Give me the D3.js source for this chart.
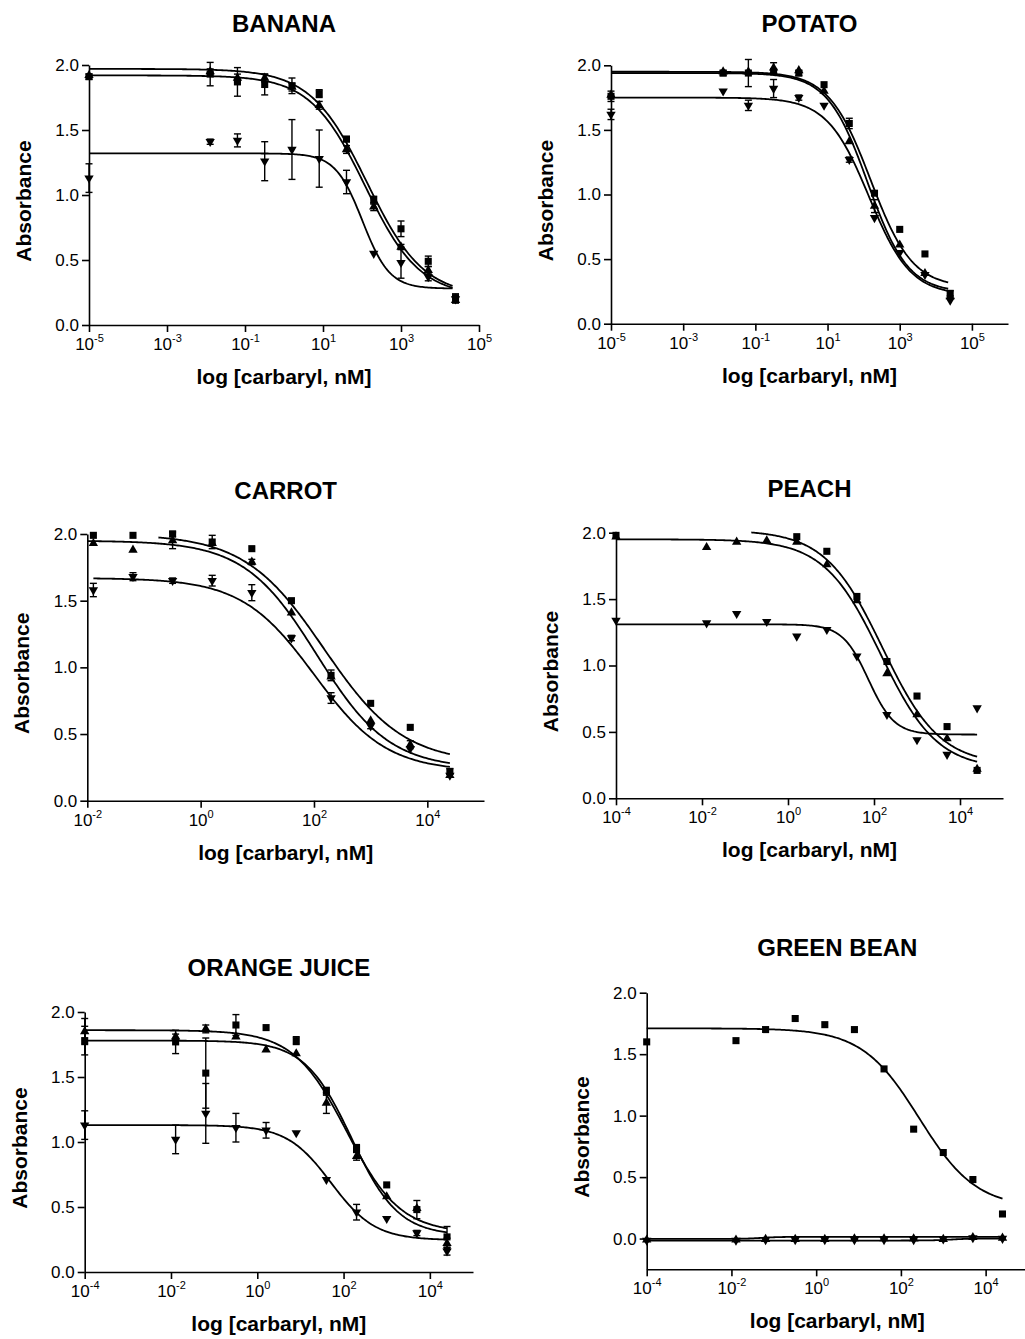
<!DOCTYPE html>
<html>
<head>
<meta charset="utf-8">
<script src="https://cdn.jsdelivr.net/npm/d3@7"></script>
<style>
	body { margin: 0; background: #fff; }
	svg { display: block; font-family: "Liberation Sans", Arial, sans-serif; }
</style>
</head>
<body>
<div id="root"></div>
<script>
// concentrations (nM); 0 is plotted on the left end of the axis
const conc = [0, 0.0128, 0.064, 0.32, 1.6, 8, 40, 200, 1000, 5000, 25000]
const titles = ['BANANA', 'POTATO', 'CARROT', 'PEACH', 'ORANGE JUICE', 'GREEN BEAN']
const symbols = ['square', 'triUp', 'triDown']

// log10 axis limits and ticks
const xExtents = [[-5, 5], [-5, 6], [-2, 5], [-4, 5], [-4, 5], [-4, 5]]
const xTickExps = [[-5, -3, -1, 1, 3, 5], [-5, -3, -1, 1, 3, 5], [-2, 0, 2, 4], [-4, -2, 0, 2, 4], [-4, -2, 0, 2, 4], [-4, -2, 0, 2, 4]]
const yExtents = [[0, 2], [0, 2], [0, 2], [0, 2], [0, 2], [-0.25, 2]]
const yTicks = [0, 0.5, 1, 1.5, 2]

// absorbance: [squares, triangles up, triangles down]
const bananaValues = [
	[1.91, 1.93, 1.87, 1.85, 1.84, 1.78, 1.43, 0.96, 0.74, 0.49, 0.21],
	[1.92, 1.95, 1.9, 1.9, 1.83, 1.69, 1.35, 0.91, 0.6, 0.42, 0.19],
	[1.13, 1.41, 1.42, 1.26, 1.35, 1.28, 1.1, 0.55, 0.48, 0.37, 0.2]
]
const bananaErrors = [
	[0.02, 0.09, 0.11, 0.08, 0.06, 0.03, 0.02, 0.03, 0.06, 0.04, 0.03],
	[0, 0.02, 0.03, 0.03, 0.03, 0.03, 0.03, 0.03, 0.02, 0.03, 0.02],
	[0.11, 0.02, 0.05, 0.15, 0.23, 0.22, 0.09, 0, 0.12, 0.03, 0.03]
]
const potatoValues = [
	[1.76, 1.94, 1.94, 1.95, 1.94, 1.85, 1.55, 1.01, 0.73, 0.54, 0.235],
	[1.77, 1.95, 1.95, 1.98, 1.96, 1.8, 1.41, 0.91, 0.61, 0.39, 0.21],
	[1.62, 1.8, 1.69, 1.82, 1.75, 1.69, 1.27, 0.82, 0.55, 0.38, 0.18]
]
const potatoErrors = [
	[0.04, 0.02, 0.105, 0.02, 0.02, 0, 0.04, 0, 0, 0, 0.02],
	[0, 0, 0, 0.04, 0, 0, 0, 0.05, 0, 0, 0],
	[0.04, 0, 0.04, 0.07, 0.02, 0, 0.02, 0, 0, 0, 0]
]
const carrotValues = [
	[null, 1.99, 1.99, 2.0, 1.94, 1.89, 1.5, 0.94, 0.73, 0.55, 0.22],
	[null, 1.93, 1.88, 1.95, 1.93, 1.79, 1.41, 0.93, 0.6, 0.42, 0.19],
	[null, 1.58, 1.68, 1.65, 1.65, 1.56, 1.22, 0.77, 0.56, 0.39, 0.19]
]
const carrotErrors = [
	[0, 0, 0, 0.02, 0.05, 0, 0, 0.04, 0, 0, 0.02],
	[0, 0, 0, 0.06, 0, 0.02, 0, 0, 0, 0.03, 0],
	[0, 0.05, 0.03, 0.02, 0.04, 0.06, 0.02, 0.04, 0.02, 0, 0]
]
const peachValues = [
	[1.98, null, null, null, 1.97, 1.86, 1.52, 1.03, 0.77, 0.54, 0.21],
	[1.97, 1.89, 1.93, 1.94, 1.93, 1.76, 1.49, 0.94, 0.63, 0.45, 0.22],
	[1.34, 1.32, 1.39, 1.33, 1.22, 1.27, 1.07, 0.63, 0.44, 0.33, 0.68]
]
const peachErrors = [
	[0, 0, 0, 0, 0, 0, 0, 0, 0, 0, 0],
	[0, 0, 0, 0, 0, 0, 0, 0, 0, 0, 0],
	[0, 0, 0, 0, 0, 0, 0, 0, 0, 0, 0]
]
const orangeValues = [
	[1.78, 1.77, 1.53, 1.9, 1.88, 1.78, 1.39, 0.95, 0.67, 0.48, 0.27],
	[1.85, 1.81, 1.87, 1.81, 1.71, 1.68, 1.3, 0.89, 0.58, 0.49, 0.22],
	[1.13, 1.02, 1.22, 1.11, 1.09, 1.07, 0.71, 0.46, 0.41, 0.3, 0.16]
]
const orangeErrors = [
	[0.11, 0.09, 0.27, 0.08, 0, 0.03, 0.03, 0.03, 0, 0.07, 0.08],
	[0.1, 0.02, 0.03, 0, 0, 0, 0.08, 0.03, 0, 0, 0.04],
	[0.11, 0.11, 0.23, 0.11, 0.06, 0, 0, 0.06, 0, 0.02, 0.03]
]
const greenBeanValues = [
	[1.6, 1.61, 1.7, 1.79, 1.74, 1.7, 1.38, 0.89, 0.7, 0.48, 0.2],
	[-0.01, -0.01, -0.005, -0.005, -0.005, 0, 0, 0, -0.005, 0.01, 0.005],
	[-0.015, -0.015, -0.01, -0.01, -0.01, -0.01, -0.01, -0.01, -0.005, 0.005, 0]
]
const greenBeanErrors = [
	[0, 0, 0, 0, 0, 0, 0, 0, 0, 0, 0],
	[0, 0, 0, 0, 0, 0, 0, 0, 0, 0, 0],
	[0, 0, 0, 0, 0, 0, 0, 0, 0, 0, 0]
]

// fitted curves: [top, bottom, EC50 (nM), hill slope, from (nM), to (nM)]
const bananaFits = [
	[1.97, 0.22, 135, 0.6, 1e-5, 21000],
	[1.92, 0.22, 120, 0.62, 1e-5, 21000],
	[1.32, 0.28, 103, 1.25, 1e-5, 21000]
]
const potatoFits = [
	[1.95, 0.28, 155, 0.75, 1e-5, 22000],
	[1.94, 0.24, 130, 0.78, 1e-5, 22000],
	[1.75, 0.22, 140, 0.75, 1e-5, 22000]
]
const carrotFits = [
	[2.0, 0.28, 150, 0.62, 0.18, 25000],
	[1.95, 0.24, 112, 0.68, 0.01, 25000],
	[1.67, 0.22, 101, 0.68, 0.0128, 25000]
]
const peachFits = [
	[2.02, 0.25, 157, 0.65, 0.14, 25000],
	[1.95, 0.22, 143, 0.66, 1e-4, 25000],
	[1.31, 0.48, 74, 1.44, 1e-4, 25000]
]
const orangeFits = [
	[1.78, 0.28, 153, 0.8, 1e-4, 25000],
	[1.86, 0.3, 119, 0.7, 1e-4, 25000],
	[1.13, 0.245, 51, 0.85, 1e-4, 25000]
]
const greenBeanFits = [
	[1.71, 0.25, 270, 0.644, 1e-4, 25000],
	[-0.016, 0, 1500, 2, 1e-4, 25000],
	[-0.003, 0.014, 0.05, 2, 1e-4, 25000]
]

const allValues = [bananaValues, potatoValues, carrotValues, peachValues, orangeValues, greenBeanValues]
const allErrors = [bananaErrors, potatoErrors, carrotErrors, peachErrors, orangeErrors, greenBeanErrors]
const allFits = [bananaFits, potatoFits, carrotFits, peachFits, orangeFits, greenBeanFits]

// plot boxes in page pixels
const layout = [
	{ left: 89, right: 479, top: 65, bottom: 325 },
	{ left: 611, right: 1008, top: 65.3, bottom: 323.7 },
	{ left: 87.3, right: 484, top: 534, bottom: 800.7 },
	{ left: 616, right: 1003, top: 532.7, bottom: 798.3 },
	{ left: 84.7, right: 473, top: 1012, bottom: 1272 },
	{ left: 646.7, right: 1028, top: 992.7, bottom: 1269.3 }
]
const titleBaselines = [32, 32, 499, 497, 976, 956]

const svg = d3.select('#root').append('svg')
	.attr('width', 1025)
	.attr('height', 1339)

svg.append('rect')
	.attr('width', 1025)
	.attr('height', 1339)
	.attr('fill', '#fff')

const squareSym = d3.symbol().type(d3.symbolSquare).size(50),
	triSym = d3.symbol().type(d3.symbolTriangle).size(38)

titles.forEach((title, i) => {
	const L = layout[i]
	const x = d3.scaleLog()
		.domain(xExtents[i].map(e => Math.pow(10, e)))
		.range([L.left, L.right])
	const y = d3.scaleLinear()
		.domain(yExtents[i])
		.range([L.bottom, yExtents[i][0] < 0 ? L.top : L.top])
	// y range: keep 2.0 at L.top, bottom of domain at L.bottom
	const xZero = x.domain()[0]
	const g = svg.append('g').attr('class', 'panel')

	// title
	g.append('text')
		.attr('x', (L.left + L.right) / 2)
		.attr('y', titleBaselines[i])
		.attr('text-anchor', 'middle')
		.attr('font-size', 24)
		.attr('font-weight', 'bold')
		.text(title)

	// axes
	const axisX = d3.axisBottom(x)
		.tickValues(xTickExps[i].map(e => Math.pow(10, e)))
		.tickSize(7)
		.tickSizeOuter(0)

	const gx = g.append('g')
		.attr('transform', `translate(0,${L.bottom})`)
		.call(axisX)

	gx.selectAll('.tick text')
		.attr('y', 25)
		.attr('dy', null)
		.attr('font-size', 17)
		.text(null)
		.each(function (d) {
			const t = d3.select(this)
			t.append('tspan').text('10')
			t.append('tspan')
				.attr('dy', -8)
				.attr('font-size', 11)
				.text(Math.round(Math.log10(d)))
		})

	const axisY = d3.axisLeft(y)
		.tickValues(yTicks)
		.tickFormat(d3.format('.1f'))
		.tickSize(7)
		.tickPadding(3)
		.tickSizeOuter(0)

	const gy = g.append('g')
		.attr('transform', `translate(${L.left},0)`)
		.call(axisY)

	gy.selectAll('.tick text').attr('font-size', 17)

	g.selectAll('.domain, .tick line')
		.attr('stroke', '#000')
		.attr('stroke-width', 1.6)
	g.selectAll('.tick text').attr('fill', '#000').attr('font-family', null)
	gx.attr('font-family', null)
	gy.attr('font-family', null)

	// axis labels
	g.append('text')
		.attr('x', (L.left + L.right) / 2)
		.attr('y', L.bottom + 59)
		.attr('text-anchor', 'middle')
		.attr('font-size', 21)
		.attr('font-weight', 'bold')
		.text('log [carbaryl, nM]')

	g.append('text')
		.attr('transform', `translate(${L.left - 58},${(L.top + L.bottom) / 2 + 6}) rotate(-90)`)
		.attr('text-anchor', 'middle')
		.attr('font-size', 21)
		.attr('font-weight', 'bold')
		.text('Absorbance')

	const px = c => x(c === 0 ? xZero : c)

	// fitted curves
	const line = d3.line()
		.x(d => x(d[0]))
		.y(d => y(d[1]))

	allFits[i].forEach(f => {
		const [top, bottom, ec50, hill, from, to] = f
		const lo = Math.log10(from), hi = Math.log10(to)
		const pts = d3.range(0, 241).map(k => {
			const c = Math.pow(10, lo + (hi - lo) * k / 240)
			return [c, bottom + (top - bottom) / (1 + Math.pow(c / ec50, hill))]
		})
		g.append('path')
			.datum(pts)
			.attr('fill', 'none')
			.attr('stroke', '#000')
			.attr('stroke-width', 1.8)
			.attr('d', line)
	})

	// points and error bars
	symbols.forEach((sym, s) => {
		const pts = conc.map((c, k) => ({
			c,
			v: allValues[i][s][k],
			e: allErrors[i][s][k]
		})).filter(d => d.v !== null)

		const bars = g.selectAll(null)
			.data(pts.filter(d => d.e > 0))
			.enter()
			.append('g')
			.attr('stroke', '#000')
			.attr('stroke-width', 1.4)

		bars.append('line')
			.attr('x1', d => px(d.c)).attr('x2', d => px(d.c))
			.attr('y1', d => y(d.v - d.e)).attr('y2', d => y(d.v + d.e))
		bars.append('line')
			.attr('x1', d => px(d.c) - 3.5).attr('x2', d => px(d.c) + 3.5)
			.attr('y1', d => y(d.v - d.e)).attr('y2', d => y(d.v - d.e))
		bars.append('line')
			.attr('x1', d => px(d.c) - 3.5).attr('x2', d => px(d.c) + 3.5)
			.attr('y1', d => y(d.v + d.e)).attr('y2', d => y(d.v + d.e))

		g.selectAll(null)
			.data(pts)
			.enter()
			.append('path')
			.attr('fill', '#000')
			.attr('d', sym === 'square' ? squareSym : triSym)
			.attr('transform', d => `translate(${px(d.c)},${y(d.v)})` + (sym === 'triDown' ? ' rotate(180)' : ''))
	})
})
</script>
</body>
</html>
